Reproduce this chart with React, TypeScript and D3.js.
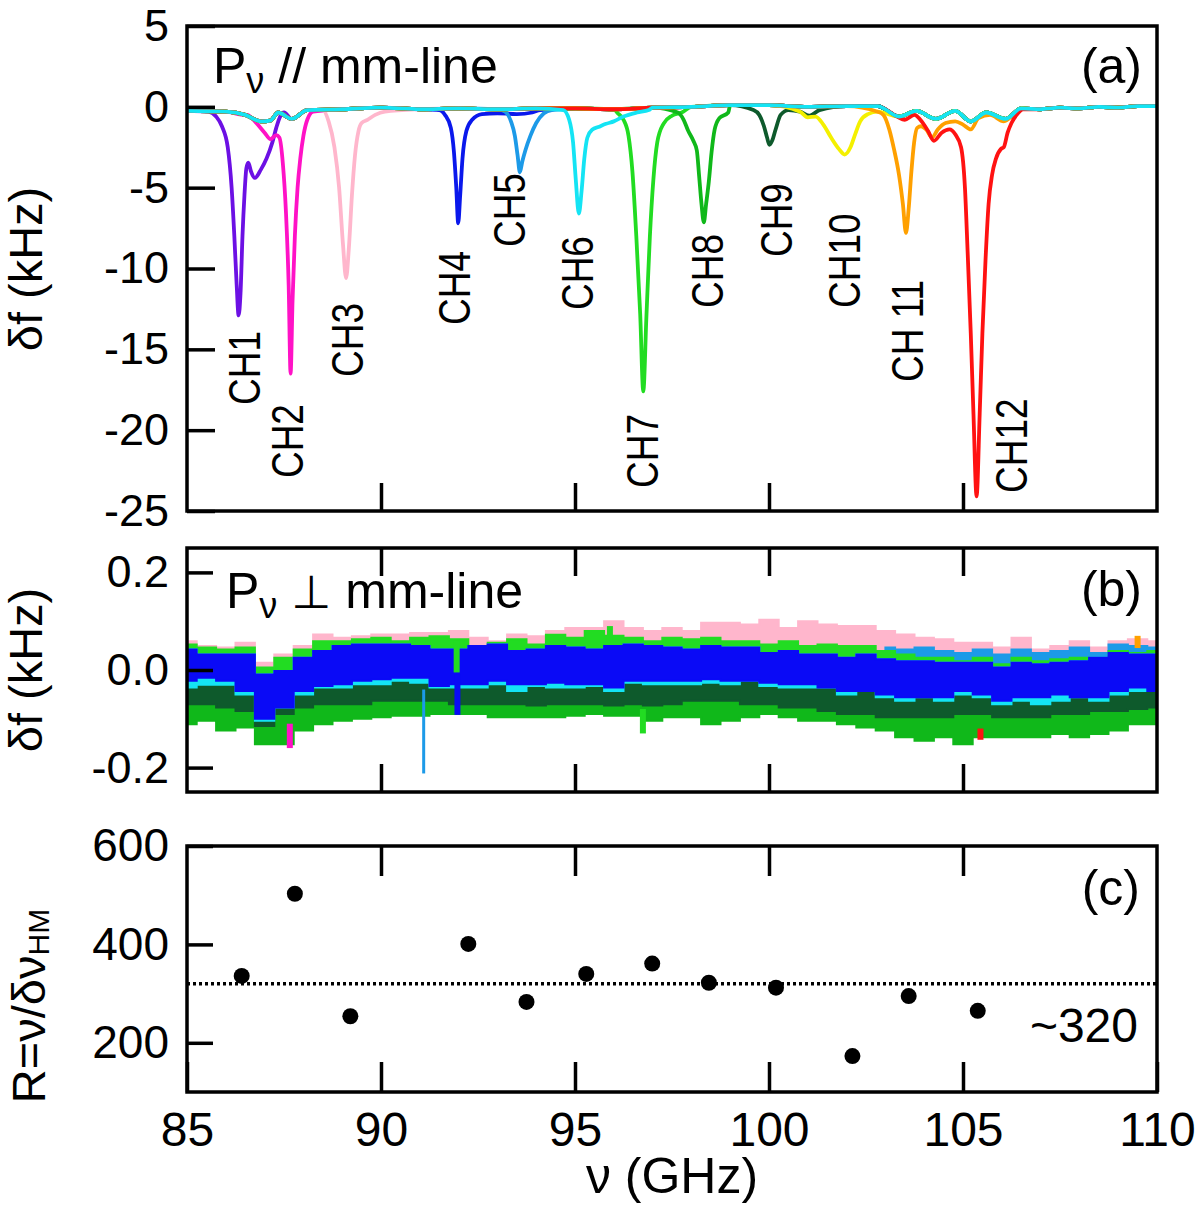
import * as d3 from "d3";
import { useEffect, useRef } from "react";

const FONT = "'Liberation Sans', Arial, Helvetica, sans-serif";

// x axis (GHz)
const X_TICKS = [85, 90, 95, 100, 105, 110];
const X_INNER = [90, 95, 100, 105];
const A_TICKS = [5, 0, -5, -10, -15, -20, -25];
const B_TICKS = [0.2, 0.0, -0.2];
const C_TICKS = [600, 400, 200];

// (a) common off-resonance trace, kHz
const baseFreq = [85, 86, 86.5, 86.9, 87.15, 87.35, 87.7, 88.1, 89, 90, 91, 92, 93, 94, 95, 96, 97, 98, 99, 100, 101, 102, 102.8, 103.35, 103.8, 104.3, 104.8, 105.2, 105.6, 106.1, 106.5, 107, 107.5, 108, 108.5, 109, 109.5, 110];
const baseVal = [-0.25, -0.3, -0.5, -0.9, -0.85, -0.35, -0.75, -0.2, -0.15, -0.05, -0.15, -0.1, -0.15, -0.1, -0.1, -0.15, -0.05, 0, 0.1, 0.1, 0, 0.05, 0.05, -0.6, -0.25, -0.75, -0.25, -0.9, -0.35, -0.75, -0.1, -0.15, -0.05, -0.1, 0, -0.05, 0.05, 0.05];

// (a) resonance dips for each channel
const chNames = ["CH1", "CH2", "CH3", "CH4", "CH5", "CH6", "CH7", "CH8", "CH9", "CH10", "CH 11", "CH12"];
const chColors = ["#6c10e4", "#ff12c6", "#ffb6cc", "#0a18ec", "#1c9ae8", "#14e4f4", "#22dc22", "#10b81a", "#0e5a2c", "#f4f000", "#ffa000", "#ff1212"];
const chFreq = [
  [85.55, 85.75, 85.9, 86.05, 86.15, 86.22, 86.28, 86.33, 86.38, 86.43, 86.48, 86.53, 86.58, 86.65, 86.75, 86.9, 87.05, 87.2, 87.3, 87.4, 87.5],
  [86.55, 86.75, 87.0, 87.15, 87.3, 87.38, 87.47, 87.55, 87.62, 87.67, 87.72, 87.78, 87.85, 87.92, 88.0, 88.1, 88.25],
  [88.5, 88.65, 88.8, 88.92, 89.02, 89.1, 89.17, 89.25, 89.33, 89.42, 89.5, 89.65, 89.85, 90.1],
  [91.5, 91.65, 91.8, 91.88, 91.94, 91.99, 92.04, 92.1, 92.2, 92.35, 92.6, 93.0, 93.5, 93.9, 94.1],
  [93.2, 93.35, 93.45, 93.52, 93.58, 93.64, 93.72, 93.85, 94.0, 94.2, 94.4],
  [94.7, 94.85, 94.95, 95.02, 95.1, 95.17, 95.24, 95.32, 95.45, 95.6, 95.8, 96.0, 96.25, 96.6, 96.9],
  [96.1, 96.25, 96.38, 96.48, 96.58, 96.68, 96.76, 96.84, 96.93, 97.02, 97.12, 97.28, 97.5, 97.75],
  [97.65, 97.8, 97.92, 98.05, 98.14, 98.2, 98.26, 98.32, 98.38, 98.45, 98.52, 98.6, 98.72, 98.95],
  [99.6, 99.75, 99.87, 99.95, 100.01, 100.08, 100.17, 100.3, 100.5, 100.8, 101.05, 101.3],
  [100.8, 101.0, 101.2, 101.4, 101.6, 101.8, 101.95, 102.1, 102.22, 102.35, 102.55, 102.8],
  [102.8, 102.95, 103.1, 103.22, 103.35, 103.45, 103.53, 103.6, 103.67, 103.74, 103.82, 103.92, 104.05, 104.2, 104.35, 104.55, 104.8, 105.0, 105.2, 105.4, 105.7, 106.05, 106.4],
  [103.3, 103.5, 103.75, 103.9, 104.1, 104.25, 104.45, 104.65, 104.8, 104.95, 105.05, 105.12, 105.2, 105.27, 105.35, 105.43, 105.5, 105.58, 105.66, 105.75, 105.85, 105.98, 106.05, 106.15, 106.25, 106.38, 106.55],
];
const chVal = [
  [-0.3, -0.6, -1.2, -2.5, -5, -8, -11, -12.9, -11.5, -8, -5.5, -3.8, -3.45, -4.0, -4.4, -3.9, -3.2, -2.2, -1.3, -0.6, -0.35],
  [-0.5, -0.9, -1.6, -2.0, -1.75, -1.9, -3.5, -6.5, -11, -16.5, -12, -8, -5, -3.2, -1.8, -0.8, -0.3],
  [-0.2, -0.9, -2.5, -5, -8.5, -10.6, -8.8, -5.5, -3.0, -1.5, -1.0, -0.8, -0.5, -0.3],
  [-0.2, -0.5, -1.3, -2.8, -5, -7.2, -5.5, -3.2, -1.5, -0.8, -0.45, -0.4, -0.45, -0.35, -0.2],
  [-0.3, -0.9, -1.8, -3.0, -4.05, -3.4, -2.7, -1.8, -1.0, -0.4, -0.2],
  [-0.2, -0.8, -2.2, -4.5, -6.6, -5.2, -3.2, -1.9, -1.4, -1.25, -1.05, -0.9, -0.6, -0.35, -0.2],
  [-0.4, -0.8, -1.8, -4, -8, -12.8, -17.6, -13, -8, -4.5, -2.2, -1.05, -0.55, -0.35],
  [-0.35, -0.8, -1.5, -2.1, -2.7, -4.3, -6.0, -7.15, -6.0, -4.6, -2.8, -1.4, -0.7, -0.35],
  [-0.2, -0.5, -1.2, -1.9, -2.35, -2.1, -1.4, -0.5, -0.2, -0.3, -0.55, -0.2],
  [-0.3, -0.65, -0.6, -1.1, -1.9, -2.6, -2.95, -2.5, -1.7, -0.9, -0.45, -0.3],
  [-0.3, -0.5, -1.4, -2.6, -4.2, -6.0, -7.8, -6.3, -4.0, -2.2, -1.3, -1.2, -1.4, -1.9, -1.4, -1.0, -0.9, -1.1, -1.4, -0.7, -0.5, -0.9, -0.25],
  [-0.6, -0.8, -0.5, -0.8, -1.5, -2.1, -1.6, -1.4, -1.7, -2.5, -5, -9, -14, -19, -24.1, -19, -14, -9.5, -6, -4.2, -3.2, -2.6, -2.5, -1.6, -1.0, -0.5, -0.15],
];
// where each channel name sits, in data units (GHz, kHz)
const chLabelFreq = [86.88, 87.99, 89.54, 92.29, 93.71, 95.46, 97.14, 98.81, 100.59, 102.34, 103.97, 106.65];
const chLabelVal = [-18.44, -22.96, -16.71, -13.49, -8.67, -12.57, -23.57, -12.44, -9.29, -12.44, -17.02, -23.88];
const drawOrder = [0, 1, 2, 3, 4, 6, 7, 8, 9, 10, 11, 5];

// (b) noise bands, kHz, sampled every 0.5 GHz
const bFreq = [85, 85.5, 86, 86.5, 87, 87.5, 88, 88.5, 89, 89.5, 90, 90.5, 91, 91.5, 92, 92.5, 93, 93.5, 94, 94.5, 95, 95.5, 96, 96.5, 97, 97.5, 98, 98.5, 99, 99.5, 100, 100.5, 101, 101.5, 102, 102.5, 103, 103.5, 104, 104.5, 105, 105.5, 106, 106.5, 107, 107.5, 108, 108.5, 109, 109.5, 110];
const pinkTop = [0.059, 0.049, 0.046, 0.056, 0.015, 0.032, 0.049, 0.073, 0.066, 0.069, 0.073, 0.073, 0.076, 0.076, 0.080, 0.066, 0.059, 0.073, 0.069, 0.080, 0.086, 0.086, 0.100, 0.086, 0.080,
  0.086, 0.080, 0.097, 0.097, 0.093, 0.103, 0.086, 0.100, 0.093, 0.090, 0.090, 0.080, 0.073, 0.066, 0.063, 0.056, 0.056, 0.046, 0.066, 0.042, 0.049, 0.059, 0.046, 0.059, 0.063, 0.059];
const greenTop = [0.052, 0.046, 0.042, 0.046, 0.005, 0.025, 0.042, 0.059, 0.059, 0.063, 0.066, 0.059, 0.066, 0.069, 0.063, 0.049, 0.056, 0.063, 0.052, 0.072, 0.066, 0.080, 0.070, 0.066, 0.059,
  0.066, 0.063, 0.066, 0.059, 0.059, 0.052, 0.059, 0.049, 0.052, 0.049, 0.049, 0.039, 0.032, 0.025, 0.025, 0.018, 0.025, 0.012, 0.025, 0.018, 0.022, 0.025, 0.018, 0.039, 0.035, 0.039];
const blueTop = [0.042, 0.032, 0.032, 0.032, -0.009, -0.002, 0.025, 0.039, 0.049, 0.052, 0.052, 0.052, 0.049, 0.042, 0.042, 0.049, 0.052, 0.039, 0.042, 0.049, 0.046, 0.042, 0.049, 0.052, 0.049,
  0.046, 0.042, 0.049, 0.046, 0.046, 0.035, 0.039, 0.032, 0.032, 0.025, 0.032, 0.022, 0.018, 0.018, 0.015, 0.015, 0.015, 0.005, 0.015, 0.012, 0.015, 0.018, 0.025, 0.035, 0.032, 0.032];
const blueBottom = [-0.022, -0.016, -0.022, -0.043, -0.100, -0.077, -0.043, -0.033, -0.029, -0.022, -0.019, -0.016, -0.016, -0.033, -0.029, -0.029, -0.022, -0.029, -0.029, -0.026, -0.029, -0.029, -0.036, -0.022, -0.022,
  -0.022, -0.022, -0.019, -0.022, -0.022, -0.026, -0.029, -0.029, -0.036, -0.043, -0.043, -0.050, -0.056, -0.056, -0.056, -0.043, -0.050, -0.063, -0.056, -0.056, -0.050, -0.056, -0.056, -0.043, -0.036, -0.043];
const cyanBottom = [-0.036, -0.030, -0.030, -0.050, -0.104, -0.077, -0.050, -0.036, -0.036, -0.029, -0.029, -0.022, -0.026, -0.036, -0.036, -0.036, -0.029, -0.043, -0.033, -0.036, -0.036, -0.033, -0.043, -0.026, -0.029,
  -0.029, -0.029, -0.026, -0.029, -0.022, -0.033, -0.036, -0.036, -0.036, -0.050, -0.043, -0.056, -0.063, -0.056, -0.063, -0.050, -0.056, -0.070, -0.063, -0.070, -0.063, -0.056, -0.063, -0.050, -0.043, -0.043];
const darkGreenBottom = [-0.070, -0.070, -0.077, -0.084, -0.115, -0.090, -0.077, -0.070, -0.070, -0.070, -0.063, -0.063, -0.063, -0.063, -0.070, -0.070, -0.070, -0.070, -0.073, -0.070, -0.070, -0.070, -0.073, -0.070, -0.073,
  -0.070, -0.063, -0.063, -0.063, -0.070, -0.070, -0.077, -0.077, -0.084, -0.090, -0.090, -0.097, -0.097, -0.097, -0.097, -0.090, -0.090, -0.097, -0.097, -0.097, -0.090, -0.090, -0.084, -0.084, -0.080, -0.077];
const lowGreenBottom = [-0.111, -0.104, -0.124, -0.118, -0.152, -0.152, -0.124, -0.111, -0.104, -0.100, -0.097, -0.094, -0.094, -0.090, -0.090, -0.090, -0.097, -0.097, -0.097, -0.097, -0.094, -0.090, -0.094, -0.094, -0.104,
  -0.097, -0.097, -0.111, -0.104, -0.097, -0.090, -0.097, -0.104, -0.104, -0.111, -0.118, -0.124, -0.138, -0.145, -0.138, -0.152, -0.138, -0.138, -0.138, -0.138, -0.131, -0.138, -0.131, -0.124, -0.111, -0.111];
// light blue only shows above the green at the high end
const lbFreq = [103, 103.5, 104, 104.5, 105, 105.5, 106, 106.5, 107, 107.5, 108, 108.5, 109, 109.5, 110];
const lbTop = [0.046, 0.042, 0.046, 0.039, 0.035, 0.042, 0.032, 0.042, 0.035, 0.039, 0.046, 0.035, 0.052, 0.049, 0.046];
// single-channel glitches
const spikeFreq = [91.1, 87.65, 105.45, 96.75, 109.5, 91.97, 91.95, 95.9];
const spikeHi = [-0.04, -0.11, -0.12, -0.08, 0.045, -0.01, 0.06, 0.09];
const spikeLo = [-0.212, -0.16, -0.143, -0.13, 0.07, -0.092, -0.005, 0.06];
const spikeCh = [4, 1, 11, 6, 10, 3, 6, 6];

// (c) resolving power per channel
const rFreq = [86.41, 87.78, 89.21, 92.25, 93.75, 95.29, 96.99, 98.45, 100.18, 102.15, 103.6, 105.38];
const rVal = [336, 503, 254, 401, 283, 340, 361, 322, 312, 173, 295, 265];
const R_MEAN = 320;

export default function App() {
  const svgRef = useRef<SVGSVGElement | null>(null);

  useEffect(() => {
    const svg = d3.select(svgRef.current);
    svg.selectAll("*").remove();

    const x = d3.scaleLinear().domain([85, 110]).range([187, 1157]);
    const ya = d3.scaleLinear().domain([-25, 5]).range([511, 26]);
    const yb = d3.scaleLinear().domain([-0.25, 0.25]).range([792, 548]);
    const yc = d3.scaleLinear().domain([100, 600]).range([1092, 846]);

    const panels = [
      { id: "a", y: ya },
      { id: "b", y: yb },
      { id: "c", y: yc },
    ];
    const defs = svg.append("defs");
    panels.forEach((p) => {
      const [y0, y1] = p.y.range();
      defs
        .append("clipPath")
        .attr("id", `clip-${p.id}`)
        .append("rect")
        .attr("x", x(85))
        .attr("y", y1)
        .attr("width", x(110) - x(85))
        .attr("height", y0 - y1);
    });

    // ---- panel (a)
    const ga = svg.append("g").attr("clip-path", "url(#clip-a)");
    const lineA = d3
      .line<[number, number]>()
      .x((d) => x(d[0]))
      .y((d) => ya(d[1]))
      .curve(d3.curveMonotoneX);

    drawOrder.forEach((i) => {
      const f = chFreq[i];
      const v = chVal[i];
      const lo = f[0];
      const hi = f[f.length - 1];
      const pts: [number, number][] = [];
      baseFreq.forEach((bf, j) => {
        if (bf < lo) pts.push([bf, baseVal[j]]);
      });
      f.forEach((ff, j) => pts.push([ff, v[j]]));
      baseFreq.forEach((bf, j) => {
        if (bf > hi) pts.push([bf, baseVal[j]]);
      });
      ga.append("path")
        .datum(pts)
        .attr("fill", "none")
        .attr("stroke", chColors[i])
        .attr("stroke-width", 3.8)
        .attr("stroke-linejoin", "round")
        .attr("d", lineA);
    });

    chNames.forEach((name, i) => {
      svg
        .append("text")
        .attr(
          "transform",
          `translate(${x(chLabelFreq[i])},${ya(chLabelVal[i])}) rotate(-90) scale(0.84,1)`
        )
        .attr("font-family", FONT)
        .attr("font-size", 44)
        .attr("fill", "#000")
        .text(name);
    });

    // ---- panel (b)
    const gb = svg.append("g").attr("clip-path", "url(#clip-b)");
    const band = (top: number[], bottom: number[] | null, color: string, freq = bFreq) => {
      const area = d3
        .area<number>()
        .x((_, j) => x(freq[j]))
        .y0((_, j) => yb(bottom ? bottom[j] : 0))
        .y1((d) => yb(d))
        .curve(d3.curveStep);
      gb.append("path")
        .datum(top)
        .attr("fill", color)
        .attr("stroke", color)
        .attr("stroke-width", 2)
        .attr("d", area);
    };
    band(pinkTop, blueBottom, chColors[2]);
    band(lbTop, null, chColors[4], lbFreq);
    band(greenTop, blueBottom, chColors[6]);
    band(blueBottom, lowGreenBottom, chColors[7]);
    band(blueBottom, darkGreenBottom, chColors[8]);
    band(blueTop, cyanBottom, chColors[5]);
    band(blueTop, blueBottom, "#0a0af6");

    spikeFreq.forEach((f, i) => {
      gb.append("line")
        .attr("x1", x(f))
        .attr("x2", x(f))
        .attr("y1", yb(spikeHi[i]))
        .attr("y2", yb(spikeLo[i]))
        .attr("stroke", spikeCh[i] === 3 ? "#0a0af6" : chColors[spikeCh[i]])
        .attr("stroke-width", i === 0 ? 3 : 6);
    });

    // ---- panel (c)
    const gc = svg.append("g").attr("clip-path", "url(#clip-c)");
    gc.append("line")
      .attr("x1", x(85))
      .attr("x2", x(110))
      .attr("y1", yc(R_MEAN))
      .attr("y2", yc(R_MEAN))
      .attr("stroke", "#000")
      .attr("stroke-width", 3.5)
      .attr("stroke-dasharray", "3 3");
    gc.selectAll("circle")
      .data(rFreq)
      .join("circle")
      .attr("cx", (d) => x(d))
      .attr("cy", (_, i) => yc(rVal[i]))
      .attr("r", 8)
      .attr("fill", "#000");

    // ---- frames and axes
    const styleAxis = (g: d3.Selection<SVGGElement, unknown, null, undefined>, size: number) => {
      g.select(".domain").remove();
      g.attr("font-family", FONT).attr("font-size", size);
      g.selectAll("line").attr("stroke-width", 3.5);
      g.selectAll("text").attr("fill", "#000");
    };

    panels.forEach((p) => {
      const [y0, y1] = p.y.range();
      svg
        .append("rect")
        .attr("x", x(85))
        .attr("y", y1)
        .attr("width", x(110) - x(85))
        .attr("height", y0 - y1)
        .attr("fill", "none")
        .attr("stroke", "#000")
        .attr("stroke-width", 3.5);
    });

    // bottom ticks (a)
    svg.append("g")
      .attr("transform", `translate(0,${ya(-25)})`)
      .call(d3.axisBottom(x).tickValues(X_INNER).tickSize(-28).tickFormat(() => ""))
      .call((g) => styleAxis(g, 10));
    // left (a)
    svg.append("g")
      .attr("transform", `translate(${x(85)},0)`)
      .call(d3.axisLeft(ya).tickValues(A_TICKS).tickSize(-28).tickPadding(18).tickFormat((d) => String(d)))
      .call((g) => styleAxis(g, 45));

    // top + bottom ticks (b)
    svg.append("g")
      .attr("transform", `translate(0,${yb(0.25)})`)
      .call(d3.axisTop(x).tickValues(X_INNER).tickSize(-28).tickFormat(() => ""))
      .call((g) => styleAxis(g, 10));
    svg.append("g")
      .attr("transform", `translate(0,${yb(-0.25)})`)
      .call(d3.axisBottom(x).tickValues(X_INNER).tickSize(-28).tickFormat(() => ""))
      .call((g) => styleAxis(g, 10));
    svg.append("g")
      .attr("transform", `translate(${x(85)},0)`)
      .call(d3.axisLeft(yb).tickValues(B_TICKS).tickSize(-26).tickPadding(18).tickFormat((d) => (+d).toFixed(1)))
      .call((g) => styleAxis(g, 45));

    // top + bottom ticks (c)
    svg.append("g")
      .attr("transform", `translate(0,${yc(600)})`)
      .call(d3.axisTop(x).tickValues(X_INNER).tickSize(-30).tickFormat(() => ""))
      .call((g) => styleAxis(g, 10));
    svg.append("g")
      .attr("transform", `translate(0,${yc(100)})`)
      .call(d3.axisBottom(x).tickValues(X_TICKS).tickSize(-30).tickPadding(20).tickFormat((d) => String(d)))
      .call((g) => styleAxis(g, 48));
    svg.append("g")
      .attr("transform", `translate(${x(85)},0)`)
      .call(d3.axisLeft(yc).tickValues(C_TICKS).tickSize(-26).tickPadding(18).tickFormat((d) => String(d)))
      .call((g) => styleAxis(g, 46));

    // ---- texts
    const txt = (tx: number, ty: number, size: number, anchor = "start") =>
      svg
        .append("text")
        .attr("x", tx)
        .attr("y", ty)
        .attr("font-family", FONT)
        .attr("font-size", size)
        .attr("text-anchor", anchor)
        .attr("fill", "#000");

    const ta = txt(213, 83, 50);
    ta.append("tspan").text("P");
    ta.append("tspan").attr("font-size", 36).attr("dy", 10).text("ν");
    ta.append("tspan").attr("dy", -10).text(" // mm-line");

    const tb = txt(226, 608, 50);
    tb.append("tspan").text("P");
    tb.append("tspan").attr("font-size", 36).attr("dy", 10).text("ν");
    tb.append("tspan").attr("dy", -10).text(" ");
    tb.append("tspan").attr("font-family", "'DejaVu Sans', sans-serif").attr("font-size", 46).text("⊥");
    tb.append("tspan").text(" mm-line");

    txt(1142, 83, 50, "end").text("(a)");
    txt(1142, 606, 50, "end").text("(b)");
    txt(1140, 905, 50, "end").text("(c)");
    txt(1138, 1042, 48, "end").text("~320");

    txt(672, 1193, 50, "middle").text("ν (GHz)");

    const ylab = (cx: number, cy: number) =>
      svg
        .append("text")
        .attr("transform", `translate(${cx},${cy}) rotate(-90)`)
        .attr("font-family", FONT)
        .attr("font-size", 47)
        .attr("text-anchor", "middle")
        .attr("fill", "#000");
    ylab(42, 269).text("δf (kHz)");
    ylab(42, 670).text("δf (kHz)");
    const tr = ylab(45, 1006);
    tr.append("tspan").text("R=ν/δν");
    tr.append("tspan").attr("font-size", 30).attr("dy", 4).text("HM");
  }, []);

  return (
    <div style={{ position: "absolute", left: 0, top: 0, width: 1200, height: 1212, background: "#fff" }}>
      <svg ref={svgRef} width={1200} height={1212} style={{ display: "block" }}></svg>
    </div>
  );
}
